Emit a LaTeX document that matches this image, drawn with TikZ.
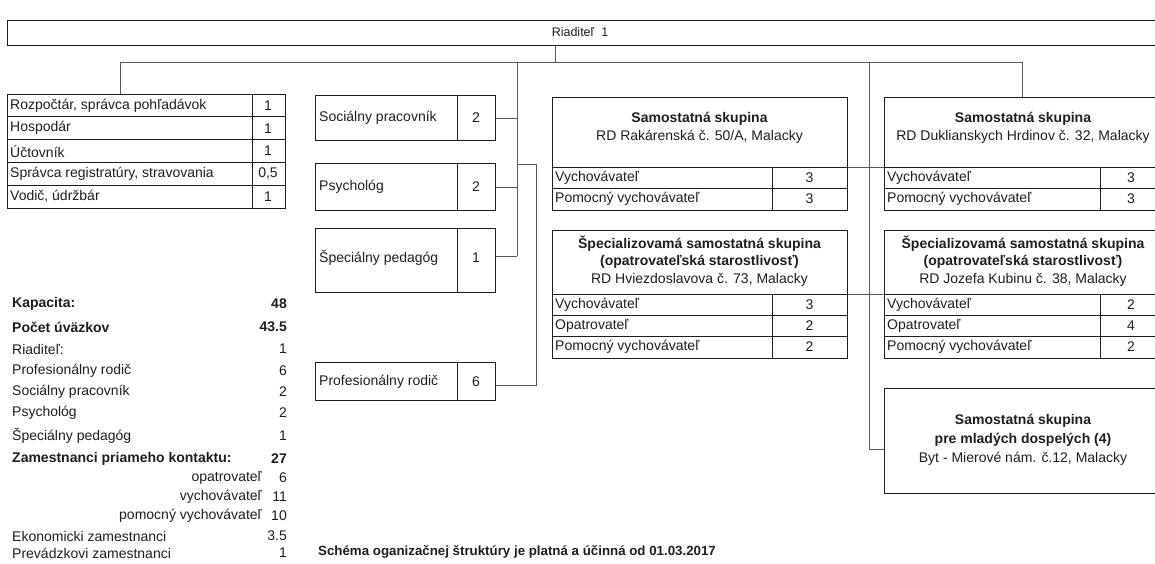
\documentclass[tikz,border=0pt]{standalone}
\usepackage{fontspec}
\setmainfont{Liberation Sans}
\definecolor{ink}{HTML}{1E1E1E}
\definecolor{wire}{HTML}{5A5A5A}
\tikzset{
 box/.style={draw=ink, line width=1.4pt, inner sep=0pt, anchor=north west},
 rule/.style={draw=ink, line width=0.6pt},
 wirel/.style={draw=wire, line width=0.7pt},
 lt/.style={anchor=west, inner sep=0pt, text=ink, font=\fontsize{14}{16}\selectfont},
 ct/.style={anchor=center, inner sep=0pt, text=ink, font=\fontsize{14}{16}\selectfont},
 rt/.style={anchor=east, inner sep=0pt, text=ink, font=\fontsize{14}{16}\selectfont},
 bt/.style={anchor=center, inner sep=0pt, text=ink, font=\fontsize{14}{16}\selectfont\bfseries},
 blt/.style={anchor=west, inner sep=0pt, text=ink, font=\fontsize{14}{16}\selectfont\bfseries},
 brt/.style={anchor=east, inner sep=0pt, text=ink, font=\fontsize{14}{16}\selectfont\bfseries},
}
\begin{document}
\begin{tikzpicture}[x=1pt,y=-1pt]
\useasboundingbox (0,0) rectangle (1155,564);
% director
\node[box, minimum width=1160pt, minimum height=25pt] (dir) at (7,20) {};
\node[anchor=center, inner sep=0pt, text=ink, font=\fontsize{12.5}{14}\selectfont] (dirt) at (580,32) {Riaditeľ\ \ 1};
% left table
\node[box, minimum width=278pt, minimum height=114pt] (tab) at (7,94) {};
\foreach \yy in {116.8,139.6,162.4,185.2} \draw[rule] (7,\yy) -- (285,\yy);
\draw[rule] (252,94) -- (252,208);
\node[lt] (ta1) at (10,105.4) {Rozpočtár, správca pohľadávok};
\node[lt] (ta2) at (10,128.2) {Hospodár};
\node[lt] (ta3) at (10,151) {Účtovník};
\node[lt] (ta4) at (10,173.8) {Správca registratúry, stravovania};
\node[lt] (ta5) at (10,196.6) {Vodič, údržbár};
\node[ct] (tn1) at (268,105.4) {1};
\node[ct] (tn2) at (268,128.2) {1};
\node[ct] (tn3) at (268,151) {1};
\node[ct] (tn4) at (268,173.8) {0,5};
\node[ct] (tn5) at (268,196.6) {1};
% middle column
\node[box, minimum width=180pt, minimum height=45pt] (soc) at (315,95) {};
\draw[rule] (457,95) -- (457,140);
\node[lt] (soct) at (319,117.5) {Sociálny pracovník};
\node[ct] (socn) at (476,117.5) {2};
\node[box, minimum width=180pt, minimum height=47pt] (psy) at (315,163) {};
\draw[rule] (457,163) -- (457,210);
\node[lt] (psyt) at (319,186.5) {Psychológ};
\node[ct] (psyn) at (476,186.5) {2};
\node[box, minimum width=180pt, minimum height=64pt] (spe) at (315,228) {};
\draw[rule] (457,228) -- (457,292);
\node[lt] (spet) at (319,258) {Špeciálny pedagóg};
\node[ct] (spen) at (476,258) {1};
\node[box, minimum width=180pt, minimum height=38pt] (pro) at (315,362) {};
\draw[rule] (457,362) -- (457,400);
\node[lt] (prot) at (319,382) {Profesionálny rodič};
\node[ct] (pron) at (476,382) {6};
% Rakarenska
\node[box, minimum width=295pt, minimum height=113pt] (rak) at (552,97) {};
\draw[rule] (552,167) -- (847,167);
\draw[rule] (552,188) -- (847,188);
\draw[rule] (772,167) -- (772,210);
\node[bt] (rakt) at (699.5,119) {Samostatná skupina};
\node[ct] (raka) at (699.5,137) {RD Rakárenská č. 50/A, Malacky};
\node[lt] (rak1) at (555,177.5) {Vychovávateľ};
\node[lt] (rak2) at (555,199) {Pomocný vychovávateľ};
\node[ct] (rakn1) at (809.5,177.5) {3};
\node[ct] (rakn2) at (809.5,199) {3};
% Hviezdoslavova
\node[box, minimum width=295pt, minimum height=128pt] (hvi) at (552,230) {};
\draw[rule] (552,294) -- (847,294);
\draw[rule] (552,315) -- (847,315);
\draw[rule] (552,336) -- (847,336);
\draw[rule] (772,294) -- (772,358);
\node[bt] (hvit1) at (699.5,244) {Špecializovamá samostatná skupina};
\node[bt] (hvit2) at (699.5,262) {(opatrovateľská starostlivosť)};
\node[ct] (hvia) at (699.5,280) {RD Hviezdoslavova č. 73, Malacky};
\node[lt] (hvi1) at (555,304.5) {Vychovávateľ};
\node[lt] (hvi2) at (555,325.5) {Opatrovateľ};
\node[lt] (hvi3) at (555,347) {Pomocný vychovávateľ};
\node[ct] (hvin1) at (809.5,304.5) {3};
\node[ct] (hvin2) at (809.5,325.5) {2};
\node[ct] (hvin3) at (809.5,347) {2};
% Duklianskych
\node[box, minimum width=278pt, minimum height=113pt] (duk) at (884,97) {};
\draw[rule] (884,167) -- (1162,167);
\draw[rule] (884,188) -- (1162,188);
\draw[rule] (1100,167) -- (1100,210);
\node[bt] (dukt) at (1023,119) {Samostatná skupina};
\node[ct] (duka) at (1023,137) {RD Duklianskych Hrdinov č. 32, Malacky};
\node[lt] (duk1) at (887,177.5) {Vychovávateľ};
\node[lt] (duk2) at (887,199) {Pomocný vychovávateľ};
\node[ct] (dukn1) at (1131,177.5) {3};
\node[ct] (dukn2) at (1131,199) {3};
% Kubinu
\node[box, minimum width=278pt, minimum height=128pt] (kub) at (884,230) {};
\draw[rule] (884,294) -- (1162,294);
\draw[rule] (884,315) -- (1162,315);
\draw[rule] (884,336) -- (1162,336);
\draw[rule] (1100,294) -- (1100,358);
\node[bt] (kubt1) at (1023,244) {Špecializovamá samostatná skupina};
\node[bt] (kubt2) at (1023,262) {(opatrovateľská starostlivosť)};
\node[ct] (kuba) at (1023,280) {RD Jozefa Kubinu č. 38, Malacky};
\node[lt] (kub1) at (887,304.5) {Vychovávateľ};
\node[lt] (kub2) at (887,325.5) {Opatrovateľ};
\node[lt] (kub3) at (887,347) {Pomocný vychovávateľ};
\node[ct] (kubn1) at (1131,304.5) {2};
\node[ct] (kubn2) at (1131,325.5) {4};
\node[ct] (kubn3) at (1131,347) {2};
% young adults
\node[box, minimum width=278pt, minimum height=105pt] (yad) at (884,388) {};
\node[bt] (yadt1) at (1023,421) {Samostatná skupina};
\node[bt] (yadt2) at (1023,440) {pre mladých dospelých (4)};
\node[ct] (yada) at (1023,459) {Byt - Mierové nám. č.12, Malacky};
% connectors
\coordinate (j0) at (555,62);
\coordinate (jl) at (120,62);
\coordinate (jm) at (517,62);
\coordinate (jr) at (869,62);
\coordinate (jd) at (1022,62);
\coordinate (jms) at (517,256);
\coordinate (jb) at (517,164);
\coordinate (jb2) at (536,164);
\coordinate (jy) at (869,449);
\coordinate (s1) at (860,167);
\coordinate (s2) at (860,294);
\coordinate (sp) at (400,256);
\coordinate (pp) at (400,385);
\draw[wirel] (dir.south -| j0) -- (j0);
\draw[wirel] (jl) -- (jd);
\draw[wirel] (jl) -- (jl |- tab.north);
\draw[wirel] (jd) -- (jd |- duk.north);
\draw[wirel] (jm) -- (jms);
\draw[wirel] (soc.east) -- (soc.east -| jm);
\draw[wirel] (psy.east) -- (psy.east -| jm);
\draw[wirel] (sp -| spe.east) -- (jms);
\draw[wirel] (jb) -- (jb2) -- (jb2 |- pp) -- (pp -| pro.east);
\draw[wirel] (jr) -- (jy) -- (jy -| yad.west);
\draw[wirel] (s1 -| rak.east) -- (s1 -| duk.west);
\draw[wirel] (s2 -| hvi.east) -- (s2 -| kub.west);
% statistics
\node[blt] (k1) at (12,304) {Kapacita:};
\node[brt] (v1) at (287,304) {48};
\node[blt] (k2) at (12,327) {Počet úväzkov};
\node[brt] (v2) at (287,327) {43.5};
\node[lt] (k3) at (12,349) {Riaditeľ:};
\node[rt] (v3) at (287,349) {1};
\node[lt] (k4) at (12,371) {Profesionálny rodič};
\node[rt] (v4) at (287,371) {6};
\node[lt] (k5) at (12,392) {Sociálny pracovník};
\node[rt] (v5) at (287,392) {2};
\node[lt] (k6) at (12,413) {Psychológ};
\node[rt] (v6) at (287,413) {2};
\node[lt] (k7) at (12,436) {Špeciálny pedagóg};
\node[rt] (v7) at (287,436) {1};
\node[blt] (k8) at (12,459) {Zamestnanci priameho kontaktu:};
\node[brt] (v8) at (287,459) {27};
\node[rt] (k9) at (262,478) {opatrovateľ};
\node[rt] (v9) at (287,478) {6};
\node[rt] (k10) at (262,497) {vychovávateľ};
\node[rt] (v10) at (287,497) {11};
\node[rt] (k11) at (262,516) {pomocný vychovávateľ};
\node[rt] (v11) at (287,516) {10};
\node[lt] (k12) at (12,536) {Ekonomicki zamestnanci};
\node[rt] (v12) at (287,536) {3.5};
\node[lt] (k13) at (12,553) {Prevádzkovi zamestnanci};
\node[rt] (v13) at (287,553) {1};
\node[anchor=west, inner sep=0pt, text=ink, font=\fontsize{13.3}{15}\selectfont\bfseries] (foot) at (318,552) {Schéma oganizačnej štruktúry je platná a účinná od 01.03.2017};
\end{tikzpicture}
\end{document}
